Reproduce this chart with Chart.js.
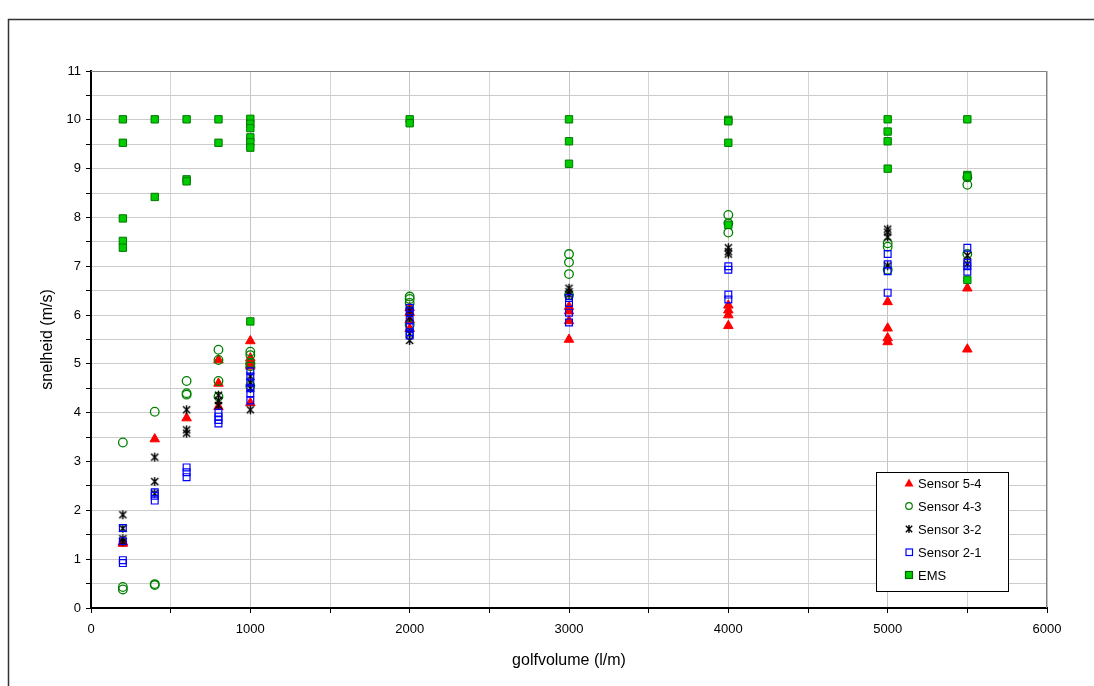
<!DOCTYPE html>
<html>
<head>
<meta charset="utf-8">
<script src="https://cdn.jsdelivr.net/npm/chart.js@4.4.1/dist/chart.umd.min.js"></script>
<style>
  body { margin: 0; background: #fff; }
</style>
</head>
<body>
<canvas id="chart" width="1094" height="686"></canvas>
<script>
// golfvolumes (l/m) that were measured
const volumes = [200, 400, 600, 800, 1000, 2000, 3000, 4000, 5000, 5500];

// speeds (m/s) per volume
const sensor54 = [
    [1.32, 1.35], [3.46], [3.89], [5.08, 4.6, 4.12], [5.47, 5.12, 5.05, 4.98, 4.95, 4.2],
    [6.15, 6.05, 5.9, 5.72], [6.17, 6.08, 5.88, 5.5], [6.2, 6.1, 6.0, 5.78],
    [6.27, 5.73, 5.53, 5.45], [6.55, 5.3],
];
const sensor43 = [
    [3.39, 0.43, 0.38], [4.02, 0.47, 0.49], [4.65, 4.4, 4.37], [5.29, 5.08, 4.65, 4.33],
    [5.25, 5.18, 5.02, 4.95, 4.55], [6.38, 6.33, 6.25, 5.8], [7.25, 7.08, 6.84, 6.41],
    [8.05, 7.88, 7.69], [7.47, 7.4, 6.93], [8.82, 8.67, 7.25],
];
const sensor32 = [
    [1.91, 1.63, 1.42, 1.36], [3.09, 2.59, 2.35], [4.06, 3.65, 3.58], [4.36, 4.25, 4.15],
    [4.75, 4.62, 4.5, 4.06], [6.1, 5.95, 5.62, 5.48], [6.55, 6.48, 6.42],
    [7.38, 7.3, 7.25], [7.76, 7.7, 7.6, 7.01], [7.22, 7.05],
];
const sensor21 = [
    [1.64, 1.37, 0.98, 0.92], [2.37, 2.3, 2.2], [2.88, 2.78, 2.68], [4.0, 3.92, 3.85, 3.78],
    [4.85, 4.74, 4.62, 4.5, 4.4, 4.25], [6.15, 6.08, 5.9, 5.75, 5.65, 5.58],
    [6.35, 6.25, 6.05, 5.85], [7.0, 6.93, 6.42, 6.32], [7.25, 7.04, 6.9, 6.46],
    [7.38, 7.07, 7.0, 6.89],
];
const ems = [
    [10.01, 9.53, 7.98, 7.52, 7.38], [10.01, 8.42], [10.01, 8.78, 8.74], [10.01, 9.53],
    [10.02, 9.92, 9.83, 9.64, 9.54, 9.43, 5.87], [10.01, 9.93], [10.01, 9.56, 9.1],
    [10.0, 9.97, 9.53, 7.85], [10.01, 9.76, 9.56, 9.0], [10.01, 8.87, 8.84, 6.72],
];

const seriesNames = ["Sensor 5-4", "Sensor 4-3", "Sensor 3-2", "Sensor 2-1", "EMS"];

function toPoints(series) {
    const pts = [];
    series.forEach((ys, i) => ys.forEach((y) => pts.push({ x: volumes[i], y: y })));
    return pts;
}

// Excel style star marker: an X with a vertical stroke
function makeStar(size) {
    const c = document.createElement("canvas");
    c.width = size;
    c.height = size;
    const g = c.getContext("2d");
    g.strokeStyle = "#000";
    g.lineWidth = 1.4;
    const m = size / 2, r = size / 2 - 1;
    g.beginPath();
    g.moveTo(m - r * 0.8, m - r * 0.8); g.lineTo(m + r * 0.8, m + r * 0.8);
    g.moveTo(m + r * 0.8, m - r * 0.8); g.lineTo(m - r * 0.8, m + r * 0.8);
    g.moveTo(m, m - r); g.lineTo(m, m + r);
    g.stroke();
    return c;
}
const starMarker = makeStar(11);
const starLegend = makeStar(10);

const frameAndLegend = {
    id: "frameAndLegend",
    beforeDraw(chart) {
        const ctx = chart.ctx;
        ctx.save();
        ctx.fillStyle = "#fff";
        ctx.fillRect(0, 0, chart.width, chart.height);
        ctx.restore();
    },
    afterDraw(chart) {
        const ctx = chart.ctx;
        const a = chart.chartArea;
        ctx.save();
        // outer frame of the chart object
        ctx.strokeStyle = "#333";
        ctx.lineWidth = 1.5;
        ctx.beginPath();
        ctx.moveTo(8.5, chart.height);
        ctx.lineTo(8.5, 19.5);
        ctx.lineTo(chart.width, 19.5);
        ctx.stroke();
        // plot area border, top and right
        ctx.strokeStyle = "#808080";
        ctx.lineWidth = 1;
        ctx.beginPath();
        ctx.moveTo(a.left, a.top + 0.5);
        ctx.lineTo(a.right - 0.5, a.top + 0.5);
        ctx.lineTo(a.right - 0.5, a.bottom);
        ctx.stroke();

        // legend box
        const lx = 876.5, ly = 472.5, lw = 132, lh = 119;
        ctx.fillStyle = "#fff";
        ctx.fillRect(lx, ly, lw, lh);
        ctx.strokeStyle = "#000";
        ctx.strokeRect(lx, ly, lw, lh);
        ctx.font = "13px 'Liberation Sans', Arial, sans-serif";
        ctx.textBaseline = "middle";
        ctx.fillStyle = "#000";
        seriesNames.forEach((name, i) => {
            const y = 483 + i * 23;
            const x = 909;
            ctx.lineWidth = 1.2;
            if (i === 0) {
                ctx.fillStyle = "#ff0000";
                ctx.beginPath();
                ctx.moveTo(x, y - 4.5); ctx.lineTo(x + 4.5, y + 3.5); ctx.lineTo(x - 4.5, y + 3.5);
                ctx.closePath();
                ctx.fill();
            } else if (i === 1) {
                ctx.strokeStyle = "#008000";
                ctx.beginPath();
                ctx.arc(x, y, 3.3, 0, Math.PI * 2);
                ctx.stroke();
            } else if (i === 2) {
                ctx.drawImage(starLegend, x - 5, y - 5);
            } else if (i === 3) {
                ctx.strokeStyle = "#0000ff";
                ctx.strokeRect(x - 3, y - 3, 6.5, 6.5);
            } else {
                ctx.fillStyle = "#00cc00";
                ctx.fillRect(x - 3.5, y - 3.5, 7, 7);
                ctx.strokeStyle = "#006600";
                ctx.strokeRect(x - 3.5, y - 3.5, 7, 7);
            }
            ctx.fillStyle = "#000";
            ctx.fillText(name, 918, y + 1);
        });
        ctx.restore();
    },
};

new Chart(document.getElementById("chart"), {
    type: "scatter",
    data: {
        datasets: [
            {
                label: seriesNames[0],
                data: toPoints(sensor54),
                pointStyle: "triangle",
                pointRadius: 5.5,
                backgroundColor: "#ff0000",
                borderColor: "#ff0000",
                borderWidth: 1,
                order: 4,
            },
            {
                label: seriesNames[1],
                data: toPoints(sensor43),
                pointStyle: "circle",
                pointRadius: 4.3,
                backgroundColor: "rgba(0,0,0,0)",
                borderColor: "#008000",
                borderWidth: 1.3,
                order: 3,
            },
            {
                label: seriesNames[2],
                data: toPoints(sensor32),
                pointStyle: starMarker,
                order: 2,
            },
            {
                label: seriesNames[3],
                data: toPoints(sensor21),
                pointStyle: "rect",
                pointRadius: 4.8,
                backgroundColor: "rgba(0,0,0,0)",
                borderColor: "#0000ff",
                borderWidth: 1.2,
                order: 1,
            },
            {
                label: seriesNames[4],
                data: toPoints(ems),
                pointStyle: "rect",
                pointRadius: 5.2,
                backgroundColor: "#00cc00",
                borderColor: "#007700",
                borderWidth: 1,
                order: 0,
            },
        ],
    },
    options: {
        responsive: false,
        animation: false,
        layout: {
            padding: { left: 0, top: 71, right: 47, bottom: 0 },
        },
        plugins: {
            legend: { display: false },
            tooltip: { enabled: false },
        },
        scales: {
            x: {
                type: "linear",
                min: 0,
                max: 6000,
                afterFit: (scale) => { scale.height = 78; },
                ticks: {
                    stepSize: 500,
                    autoSkip: false,
                    maxRotation: 0,
                    padding: 9,
                    color: "#000",
                    font: { family: "'Liberation Sans', Arial, sans-serif", size: 13 },
                    callback: (v) => (v % 1000 === 0 ? String(v) : ""),
                },
                grid: {
                    color: (c) => (c.tick && c.tick.value % 1000 === 0 ? "#c4c4c4" : "#d4d4d4"),
                    lineWidth: 1,
                    tickLength: 5,
                    tickColor: "#000",
                },
                border: { color: "#000", width: 2 },
                title: {
                    display: true,
                    text: "golfvolume (l/m)",
                    color: "#000",
                    font: { family: "'Liberation Sans', Arial, sans-serif", size: 16 },
                    padding: { top: 0, bottom: 16 },
                },
            },
            y: {
                type: "linear",
                min: 0,
                max: 11,
                afterFit: (scale) => { scale.width = 91; },
                ticks: {
                    stepSize: 0.5,
                    autoSkip: false,
                    padding: 5,
                    color: "#000",
                    font: { family: "'Liberation Sans', Arial, sans-serif", size: 13 },
                    callback: (v) => (Number.isInteger(v) ? String(v) : ""),
                },
                grid: {
                    color: "#cccccc",
                    lineWidth: 1,
                    tickLength: 5,
                    tickColor: "#000",
                },
                border: { color: "#000", width: 2 },
                title: {
                    display: true,
                    text: "snelheid (m/s)",
                    color: "#000",
                    font: { family: "'Liberation Sans', Arial, sans-serif", size: 16 },
                    padding: { top: 38, bottom: 0 },
                },
            },
        },
    },
    plugins: [frameAndLegend],
});
</script>
</body>
</html>
